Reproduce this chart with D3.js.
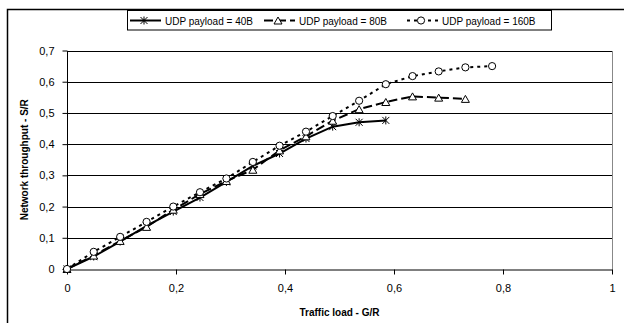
<!DOCTYPE html>
<html>
<head>
<meta charset="utf-8">
<script src="https://cdn.jsdelivr.net/npm/d3@7"></script>
<style>
  html, body { margin: 0; padding: 0; background: #fff; }
  svg { display: block; font-family: Arial, "Liberation Sans", sans-serif; }
</style>
</head>
<body>
<svg id="chart" width="624" height="323"></svg>
<script>
// Offered traffic load (G/R) at each measurement step
const loads = [0, 0.049, 0.0975, 0.146, 0.195, 0.244, 0.2925, 0.341, 0.39, 0.4385, 0.4875, 0.536, 0.585, 0.634, 0.682, 0.731, 0.78];

// Network throughput (S/R) for each UDP payload size
const thr40  = [0, 0.040, 0.088, 0.138, 0.184, 0.229, 0.279, 0.330, 0.370, 0.418, 0.456, 0.470, 0.476];
const thr80  = [0, 0.043, 0.090, 0.135, 0.190, 0.240, 0.282, 0.318, 0.380, 0.425, 0.475, 0.512, 0.535, 0.553, 0.549, 0.545];
const thr160 = [0, 0.055, 0.103, 0.151, 0.200, 0.246, 0.290, 0.343, 0.395, 0.440, 0.490, 0.539, 0.592, 0.618, 0.633, 0.646, 0.650];

const seriesNames = ["UDP payload = 40B", "UDP payload = 80B", "UDP payload = 160B"];
const xTicks = [0, 0.2, 0.4, 0.6, 0.8, 1];
const yTicks = [0, 0.1, 0.2, 0.3, 0.4, 0.5, 0.6, 0.7];
const xTitle = "Traffic load - G/R";
const yTitle = "Network throughput - S/R";

const series = [
  { name: seriesNames[0], values: thr40,  marker: "star",     dash: null },
  { name: seriesNames[1], values: thr80,  marker: "triangle", dash: "9,4" },
  { name: seriesNames[2], values: thr160, marker: "circle",   dash: "3,4" }
];

const svg = d3.select("#chart");
// decimal comma labels: 0, 0,2 ... 1
const fmt = d => (d === 0 || d === 1) ? String(d) : String(d).replace(".", ",");

const x = d3.scaleLinear().domain([0, 1]).range([67, 612]);
const y = d3.scaleLinear().domain([0, 0.7]).range([269, 50.5]);

// outer chart frame (runs off the right and bottom edges)
svg.append("rect")
  .attr("x", 7.5).attr("y", 9.5).attr("width", 640).attr("height", 340)
  .attr("fill", "#fff").attr("stroke", "#000").attr("stroke-width", 1.5);

// horizontal gridlines
svg.append("g")
  .selectAll("line").data(yTicks.filter(d => d > 0)).join("line")
  .attr("x1", x(0)).attr("x2", x(1))
  .attr("y1", d => Math.round(y(d)) + 0.5).attr("y2", d => Math.round(y(d)) + 0.5)
  .attr("stroke", "#000").attr("stroke-width", 1);

// right edge of the plot area
svg.append("line")
  .attr("x1", x(1) + 0.5).attr("x2", x(1) + 0.5)
  .attr("y1", Math.round(y(0.7))).attr("y2", Math.round(y(0)) + 0.5)
  .attr("stroke", "#888").attr("stroke-width", 1);

// axes
const xAxis = d3.axisBottom(x).tickValues(xTicks).tickFormat(fmt).tickSizeInner(5).tickSizeOuter(0).tickPadding(10);
const yAxis = d3.axisLeft(y).tickValues(yTicks).tickFormat(fmt).tickSizeInner(5).tickSizeOuter(0).tickPadding(8);

const gx = svg.append("g").attr("transform", `translate(0,${Math.round(y(0)) + 0.5})`).call(xAxis);
const gy = svg.append("g").attr("transform", `translate(${Math.round(x(0)) + 0.5},0)`).call(yAxis);
[gx, gy].forEach(g => {
  g.select(".domain").attr("stroke", "#000").attr("stroke-width", 1);
  g.selectAll(".tick line").attr("stroke", "#000");
  g.selectAll(".tick text").attr("font-size", 11).attr("fill", "#000")
    .attr("font-family", "Arial, 'Liberation Sans', sans-serif");
});
gy.select(".domain").attr("d", `M0,${Math.round(y(0.7))}V${Math.round(y(0)) + 0.5}`);

// axis titles
svg.append("text")
  .attr("x", (x(0) + x(1)) / 2).attr("y", 316)
  .attr("text-anchor", "middle").attr("font-size", 10).attr("font-weight", "bold")
  .text(xTitle);
svg.append("text")
  .attr("transform", `translate(28,${(y(0) + y(0.7)) / 2}) rotate(-90)`)
  .attr("text-anchor", "middle").attr("font-size", 10).attr("font-weight", "bold")
  .text(yTitle);

// marker shapes
function drawMarker(g, type, cx, cy) {
  if (type === "circle") {
    g.append("circle").attr("cx", cx).attr("cy", cy).attr("r", 3.6)
      .attr("fill", "#fff").attr("stroke", "#000").attr("stroke-width", 1);
  } else if (type === "triangle") {
    const h = 7, w = 8;
    g.append("path")
      .attr("d", `M${cx},${cy - h / 2}L${cx + w / 2},${cy + h / 2}L${cx - w / 2},${cy + h / 2}Z`)
      .attr("fill", "#fff").attr("stroke", "#000").attr("stroke-width", 1);
  } else {
    const s = 3.5;
    g.append("path")
      .attr("d", `M${cx - s},${cy - s}L${cx + s},${cy + s}M${cx + s},${cy - s}L${cx - s},${cy + s}M${cx},${cy - s - 0.5}L${cx},${cy + s + 0.5}`)
      .attr("fill", "none").attr("stroke", "#000").attr("stroke-width", 1);
  }
}

const line = d3.line().x(d => x(d[0])).y(d => y(d[1]));

// series lines first, markers on top
series.forEach(s => {
  const pts = s.values.map((v, i) => [loads[i], v]);
  svg.append("path").datum(pts)
    .attr("d", line)
    .attr("fill", "none").attr("stroke", "#000").attr("stroke-width", 2)
    .attr("stroke-dasharray", s.dash);
});
series.forEach(s => {
  const g = svg.append("g");
  s.values.forEach((v, i) => drawMarker(g, s.marker, x(loads[i]), y(v)));
});

// legend
const lg = svg.append("g");
lg.append("rect").attr("x", 127.5).attr("y", 10.5).attr("width", 424).attr("height", 19.5)
  .attr("fill", "#fff").attr("stroke", "#000").attr("stroke-width", 1);
const legendX = [130, 264, 407];
series.forEach((s, i) => {
  const x0 = legendX[i];
  lg.append("line").attr("x1", x0).attr("x2", x0 + 31).attr("y1", 20.5).attr("y2", 20.5)
    .attr("stroke", "#000").attr("stroke-width", 2)
    .attr("stroke-dasharray", s.dash);
  drawMarker(lg, s.marker, x0 + 14, 20.5);
  lg.append("text").attr("x", x0 + 35).attr("y", 24.5)
    .attr("font-size", 10).attr("fill", "#000").text(s.name);
});
</script>
</body>
</html>
